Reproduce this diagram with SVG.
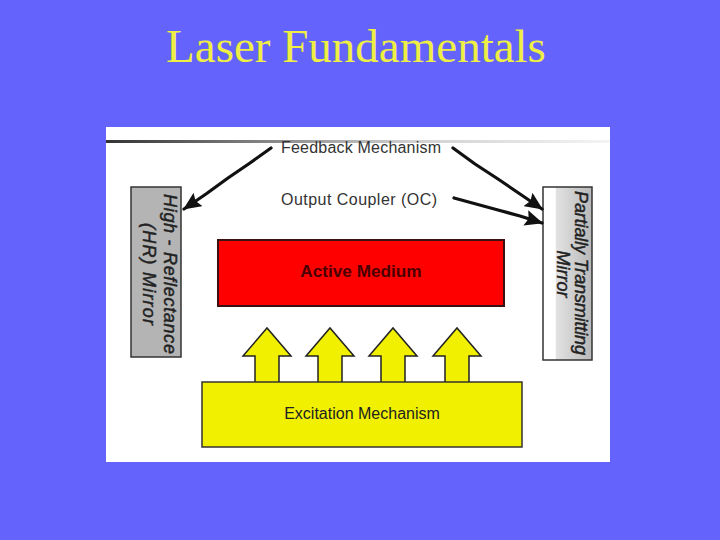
<svg xmlns="http://www.w3.org/2000/svg" width="720" height="540" viewBox="0 0 720 540">
  <style>
    .lbl { font-family: "Liberation Sans", Arial, sans-serif; fill: #333333; font-size: 16px; }
    .mir { font-family: "Liberation Sans", Arial, sans-serif; fill: #222222; stroke: #222222; stroke-width: 0.45; font-size: 18px; font-style: italic; text-anchor: middle; }
    .conn { fill: none; stroke: #111111; stroke-width: 3.2; stroke-linecap: round; stroke-linejoin: round; }
    .pump { fill: #f0f000; stroke: #222222; stroke-width: 1.5; stroke-linejoin: miter; }
  </style>
  <defs>
    <linearGradient id="topline" x1="0" y1="0" x2="1" y2="0">
      <stop offset="0" stop-color="#333333"/>
      <stop offset="0.6" stop-color="#cfcfcf"/>
      <stop offset="1" stop-color="#f4f4f4"/>
    </linearGradient>
    <linearGradient id="pmir" x1="0" y1="0" x2="1" y2="0">
      <stop offset="0" stop-color="#ffffff"/>
      <stop offset="0.25" stop-color="#ffffff"/>
      <stop offset="0.27" stop-color="#e2e2e2"/>
      <stop offset="1" stop-color="#b8b8b8"/>
    </linearGradient>
    <marker id="ah" markerUnits="userSpaceOnUse" markerWidth="20" markerHeight="16" refX="17" refY="8" orient="auto">
      <path d="M0,0 L18,8 L0,16 L3,8 Z" fill="#111111"/>
    </marker>
  </defs>

  <rect x="0" y="0" width="720" height="540" fill="#6464fc"/>
  <text x="356" y="62" font-family="Liberation Serif, 'Times New Roman', serif" font-size="47" fill="#eeee44" text-anchor="middle">Laser Fundamentals</text>

  <rect x="106" y="127" width="504" height="335" fill="#ffffff"/>
  <rect x="106" y="140" width="504" height="3" fill="url(#topline)"/>

  <g id="hr-mirror">
    <rect x="131" y="187" width="50" height="170" fill="#b4b4b4" stroke="#333333" stroke-width="1.5"/>
    <text class="mir" transform="translate(164,274) rotate(90)" textLength="160" lengthAdjust="spacing">High - Reflectance</text>
    <text class="mir" transform="translate(143,274) rotate(90)" textLength="102" lengthAdjust="spacing">(HR) Mirror</text>
  </g>

  <g id="oc-mirror">
    <rect x="543" y="187" width="49" height="173" fill="url(#pmir)" stroke="#333333" stroke-width="1.5"/>
    <text class="mir" transform="translate(575,273) rotate(90)" textLength="164" lengthAdjust="spacing">Partially Transmitting</text>
    <text class="mir" transform="translate(557,274) rotate(90)">Mirror</text>
  </g>

  <g id="active-medium">
    <rect x="218" y="240" width="286" height="66" fill="#ff0000" stroke="#3a1010" stroke-width="2"/>
    <text x="361" y="277" font-family="Liberation Sans, Arial, sans-serif" font-size="17.2" font-weight="bold" fill="#4a0000" text-anchor="middle">Active Medium</text>
  </g>

  <g id="pump-arrows">
    <polygon class="pump" points="255,383 255,356 243,356 267,328 291,356 279,356 279,383"/>
    <polygon class="pump" points="318,383 318,356 306,356 330,328 354,356 342,356 342,383"/>
    <polygon class="pump" points="381,383 381,356 369,356 393,328 417,356 405,356 405,383"/>
    <polygon class="pump" points="445,383 445,356 433,356 457,328 481,356 469,356 469,383"/>
  </g>

  <g id="excitation">
    <rect x="202" y="382" width="320" height="65" fill="#f0f000" stroke="#333333" stroke-width="1.5"/>
    <text x="362" y="419" class="lbl" text-anchor="middle" style="fill:#222222">Excitation Mechanism</text>
  </g>

  <g id="feedback-label">
    <text x="281" y="153" class="lbl" textLength="160" lengthAdjust="spacing">Feedback Mechanism</text>
  </g>
  <g id="oc-label">
    <text x="281" y="205" class="lbl" textLength="156" lengthAdjust="spacing">Output Coupler (OC)</text>
  </g>

  <g id="connectors">
    <path class="conn" d="M271,148 L250,163 L228,178 L206,194 L184,209" marker-end="url(#ah)"/>
    <path class="conn" d="M453,148 L475,164 L498,179 L520,194 L542,209" marker-end="url(#ah)"/>
    <path class="conn" d="M454,198 L476,204 L498,210 L520,216 L542,223" marker-end="url(#ah)"/>
  </g>
</svg>
